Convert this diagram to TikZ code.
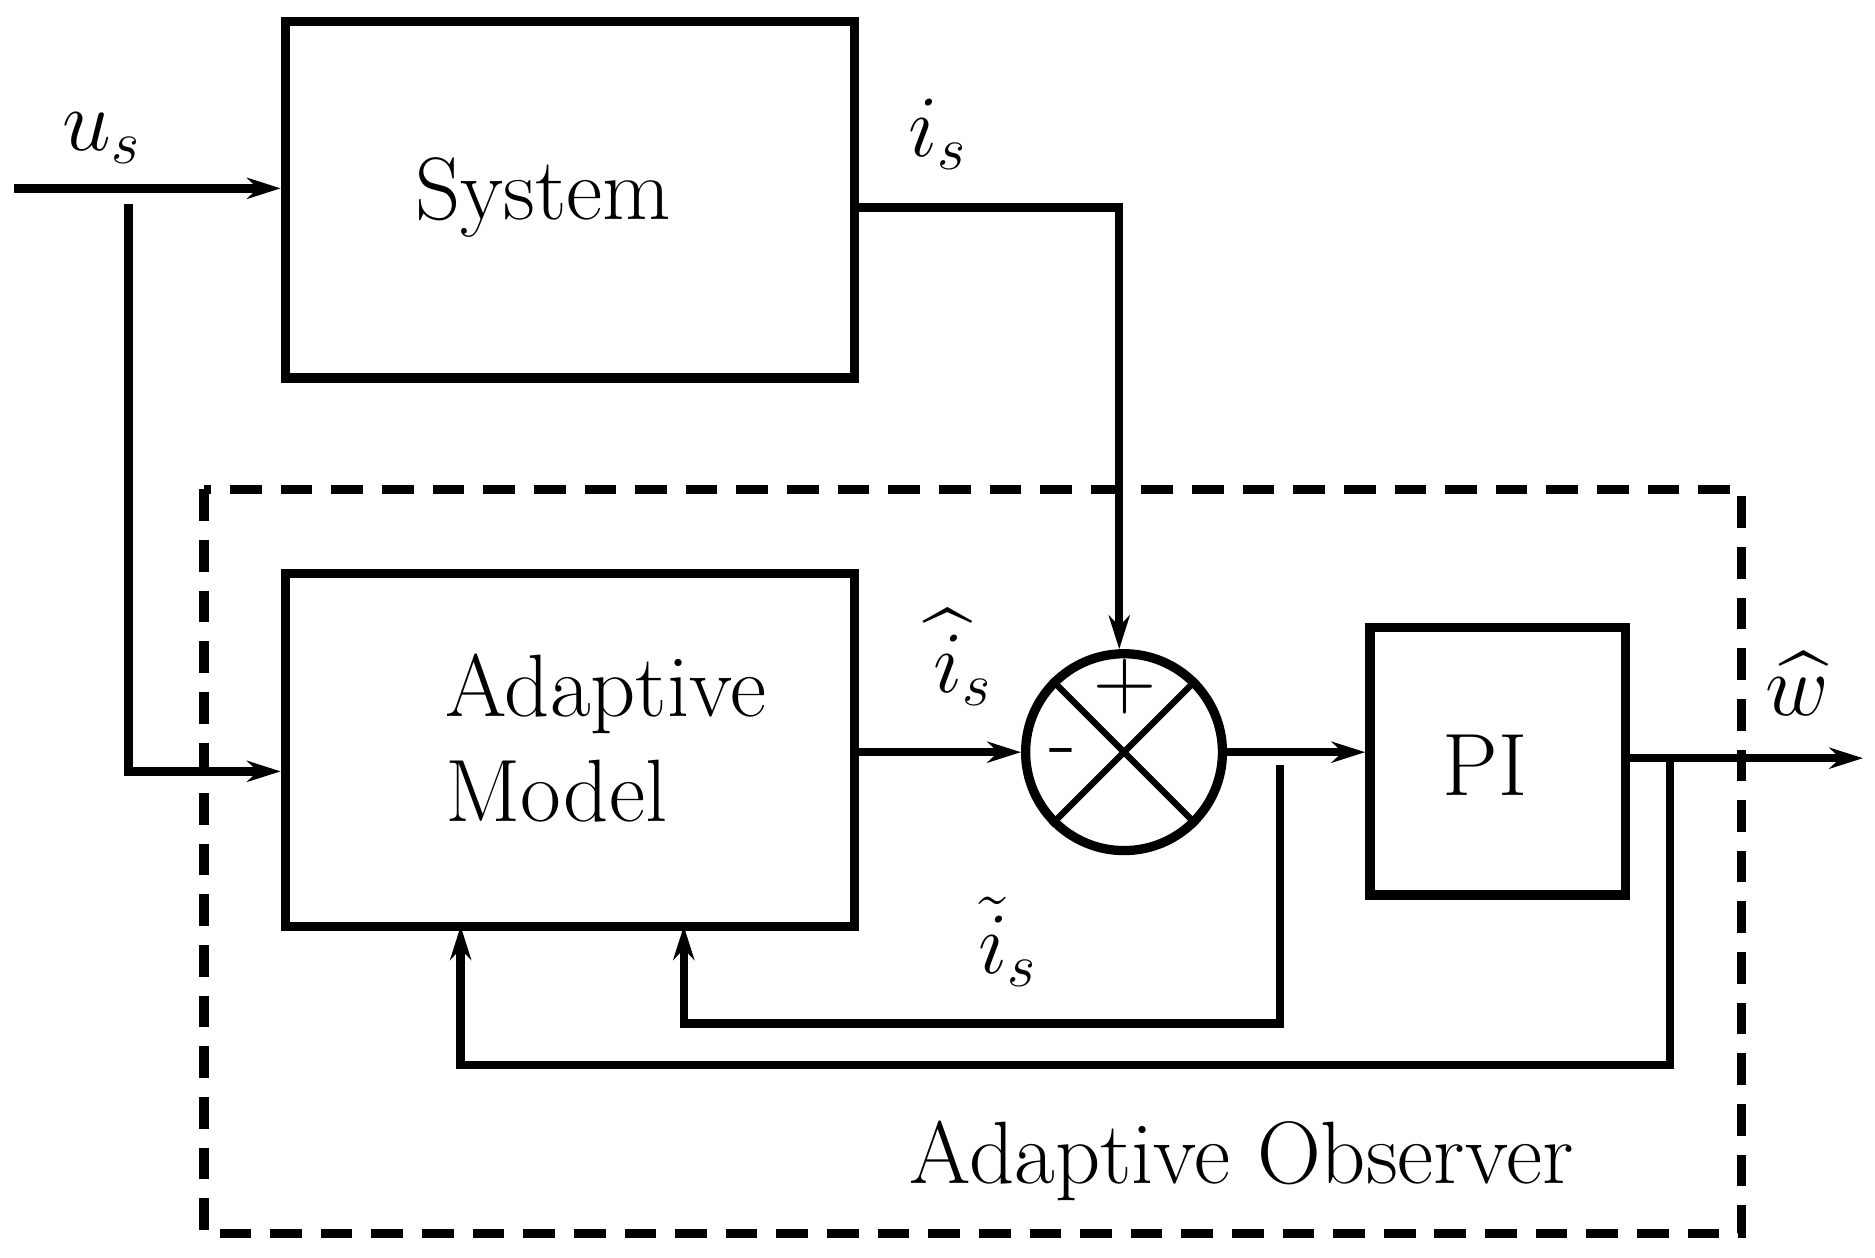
\documentclass[tikz,border=0pt]{standalone}
\usepackage{amsmath}
\usetikzlibrary{arrows.meta}
\begin{document}
\begin{tikzpicture}[x=0.01cm,y=-0.01cm,line width=2pt,
  blk/.style={draw,line width=2.2pt,inner sep=0pt},
  txt/.style={font=\fontsize{21}{25}\selectfont},
  arr/.style={-{Stealth[length=8pt,width=5pt]}}]
\useasboundingbox (0,0) rectangle (1563,1048);
\draw[line width=2.2pt,dash pattern=on 7.5pt off 4.5pt] (170,408) rectangle (1452,1028);
\node[blk,minimum width=4.74cm,minimum height=2.97cm] (sys) at (475,166.5) {};
\node[txt] at (453,165) {System};
\node[blk,minimum width=4.74cm,minimum height=2.94cm] (am) at (475,625) {};
\node[txt,align=left] at (505,615) {Adaptive\\Model};
\node[blk,minimum width=2.13cm,minimum height=2.23cm] (pi) at (1248.5,634.5) {};
\node[txt] at (1238,638) {PI};
\node[draw,circle,line width=2.2pt,minimum size=1.64cm,inner sep=0pt] (sum) at (937,627) {};
\draw[line width=1.5pt] (sum.45)--(sum.225) (sum.135)--(sum.-45);
\node[txt] at (938,572) {$+$};
\node[txt] at (886,633) {-};
\coordinate (in) at (12,157);
\coordinate (br) at (107,170);
\coordinate (out) at (1553,632);
\draw[arr] (in) -- (sys.west |- in);
\draw[arr] (br) -- (107,643) -- (am.west |- 0,643);
\draw[arr] (sys.east |- 0,173) -- (933,173) -- (sum.north -| 933,0);
\draw[arr] (am.east |- sum) -- (sum.west);
\draw[arr] (sum.east) -- (pi.west |- sum);
\draw[arr] (pi.east |- out) -- (out);
\coordinate (t1) at (1067,638);
\draw[arr] (t1) -- (1067,853) -- (570,853) -- (570,772);
\draw[arr] (1392,632) -- (1392,888) -- (384,888) -- (384,772);
\node[txt] at (85,115) {$u_s$};
\node[txt] at (782,112) {$i_s$};
\node[txt] at (803,548) {$\widehat{i}_s$};
\node[txt] at (840,785) {$\tilde{i}_s$};
\node[txt] at (1498,570) {$\widehat{w}$};
\node[txt] at (1035,968) {Adaptive Observer};
\end{tikzpicture}
\end{document}
